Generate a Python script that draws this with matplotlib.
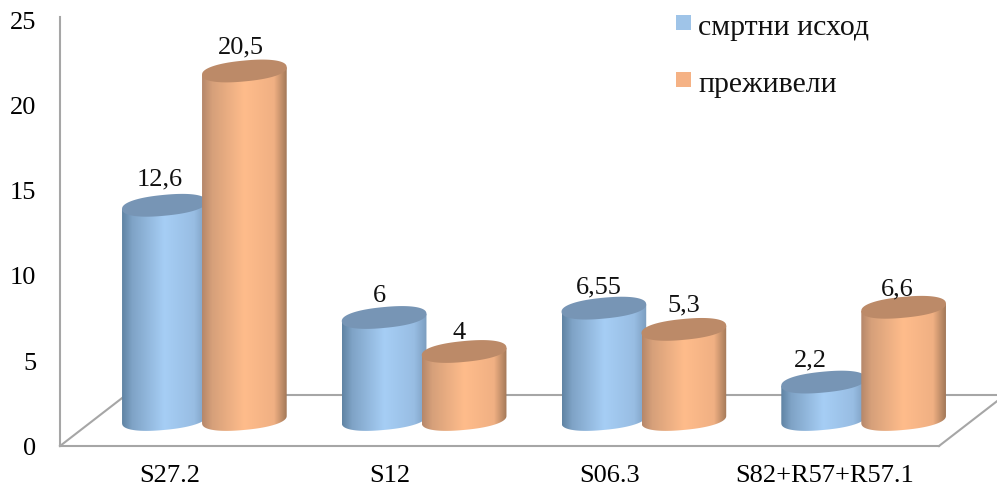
import numpy as np
from matplotlib import pyplot as plt
from matplotlib.colors import LinearSegmentedColormap
from matplotlib.patches import PathPatch, Rectangle
from matplotlib.path import Path
from matplotlib.transforms import ScaledTranslation

categories = ['S27.2', 'S12', 'S06.3', 'S82+R57+R57.1']
died = [12.6, 6, 6.55, 2.2]
survived = [20.5, 4, 5.3, 6.6]
y_ticks = [0, 5, 10, 15, 20, 25]
series_names = ['смртни исход', 'преживели']

plt.rcParams['font.family'] = ['Liberation Serif', 'DejaVu Serif']

WIDTH, HEIGHT = 997, 494
fig = plt.figure(figsize=(WIDTH / 100, HEIGHT / 100), dpi=100)
ax = fig.add_axes([60 / WIDTH, 48 / HEIGHT, 879 / WIDTH, 429 / HEIGHT])
ax.set_xlim(-0.5, 3.5)
ax.set_ylim(0, 429 / 17)

# pixels per data unit, used for the fake 3D offsets
px_x = 879 / 4
px_y = 17

blue_map = LinearSegmentedColormap.from_list(
    'blue_side', [(0, '#5f83a3'), (0.12, '#7fa3c6'), (0.5, '#a6cef5'), (0.85, '#98bde3'), (1, '#7b9dbf')])
orange_map = LinearSegmentedColormap.from_list(
    'orange_side', [(0, '#b5876a'), (0.12, '#d6a07a'), (0.5, '#ffbc8b'), (0.85, '#f0b083'), (1, '#a27858')])

GRAY = '#a6a6a6'
HALF_W = 42.5
HALF_H = 10.4
TILT = np.radians(5.5)
BASE = 1.56
DEPTH_X = 34.5
GROUP_GAP = 40
ROUND = 0.88  # below 1 makes the ellipse ends less pointed
# parameter of the left/right extremes of the tilted ellipse
T_EDGE = np.arctan2(-HALF_H * np.sin(TILT), HALF_W * np.cos(TILT))


def ellipse_points(cx, cy, t):
    c = np.sign(np.cos(t)) * np.abs(np.cos(t)) ** ROUND
    s = np.sign(np.sin(t)) * np.abs(np.sin(t)) ** ROUND
    dx = HALF_W * c * np.cos(TILT) - HALF_H * s * np.sin(TILT)
    dy = HALF_W * c * np.sin(TILT) + HALF_H * s * np.cos(TILT)
    return cx + dx / px_x, cy + dy / px_y


def draw_cylinder(x, value, shift, cmap, top_color, zorder):
    cx = x + (DEPTH_X + shift * GROUP_GAP) / px_x
    top = BASE + value

    # side wall: left edge down, round the front of the base, right edge up
    bx, by = ellipse_points(cx, BASE, np.linspace(np.pi + T_EDGE, 2 * np.pi + T_EDGE, 60))
    tx, ty = ellipse_points(cx, top, np.array([T_EDGE, np.pi + T_EDGE]))
    xs = np.concatenate([bx, tx])
    ys = np.concatenate([by, ty])
    side = PathPatch(Path(np.column_stack([xs, ys])), transform=ax.transData, fc='none', ec='none')
    side.set_clip_on(False)
    ax.add_patch(side)
    grad = np.linspace(0, 1, 256).reshape(1, -1)
    im = ax.imshow(grad, cmap=cmap, aspect='auto', zorder=zorder,
                   extent=[xs.min(), xs.max(), BASE - 1, top + 1])
    # the last cylinder reaches past the axes, so clip to the figure and the wall only
    im.set_clip_box(fig.bbox)
    im.set_clip_path(side)

    ex, ey = ellipse_points(cx, top, np.linspace(0, 2 * np.pi, 160))
    ax.fill(ex, ey, color=top_color, lw=0, zorder=zorder + 0.5, clip_on=False)
    return cx, top


# floor outline behind the cylinders
ax.plot([0 - 0.5, 66 / px_x - 0.5], [0, 51 / px_y], color=GRAY, lw=1.5, clip_on=False, zorder=1)
ax.plot([66 / px_x - 0.5, 3.5 + 66 / px_x], [51 / px_y, 51 / px_y], color=GRAY, lw=1.5, clip_on=False, zorder=1)
ax.plot([3.5, 3.5 + 66 / px_x], [0, 51 / px_y], color=GRAY, lw=1.5, clip_on=False, zorder=1)

label_nudge = [(-5, 26), (-5, 21), (-5, 21), (-13, 22), (-4, 24), (-5, 18), (0, 24), (-6, 18)]
all_values = died + survived
all_x = list(range(4)) * 2
for i, (x, value) in enumerate(zip(all_x, all_values)):
    if i < 4:
        cx, top = draw_cylinder(x, value, -1, blue_map, '#7795b5', 3)
    else:
        cx, top = draw_cylinder(x, value, 1, orange_map, '#bc8a68', 4)
    nx, ny = label_nudge[i]
    ax.text(cx + nx / px_x, top + ny / px_y, f'{value:g}'.replace('.', ','),
            ha='center', va='center', fontsize=19, color='#111111', zorder=6)

ax.set_xlim(-0.5, 3.5)
ax.set_ylim(0, 429 / 17)
ax.set_xticks(range(4), categories)
ax.set_yticks(y_ticks)
ax.tick_params(axis='x', length=0, pad=14, labelsize=19)
ax.tick_params(axis='y', length=0, pad=17, labelsize=19)
for name in ['top', 'right']:
    ax.spines[name].set_visible(False)
for name in ['left', 'bottom']:
    ax.spines[name].set_color(GRAY)
    ax.spines[name].set_linewidth(1.5)

# the long last label sits a little left of its tick
last = ax.get_xticklabels()[3]
last.set_transform(last.get_transform() + ScaledTranslation(-5 / 100, 0, fig.dpi_scale_trans))

# legend drawn by hand: the squares sit above the text's middle
for row, (name, color) in enumerate(zip(series_names, ['#9fc4e8', '#f5b285'])):
    y = 15 + row * 57
    fig.add_artist(Rectangle((676 / WIDTH, 1 - (y + 15) / HEIGHT), 15 / WIDTH, 15 / HEIGHT,
                             transform=fig.transFigure, fc=color, ec='none'))
    fig.text(698 / WIDTH, 1 - (y + 20) / HEIGHT, name, fontsize=21.5, va='baseline', color='#111111')

plt.savefig('out.png', dpi=100)
